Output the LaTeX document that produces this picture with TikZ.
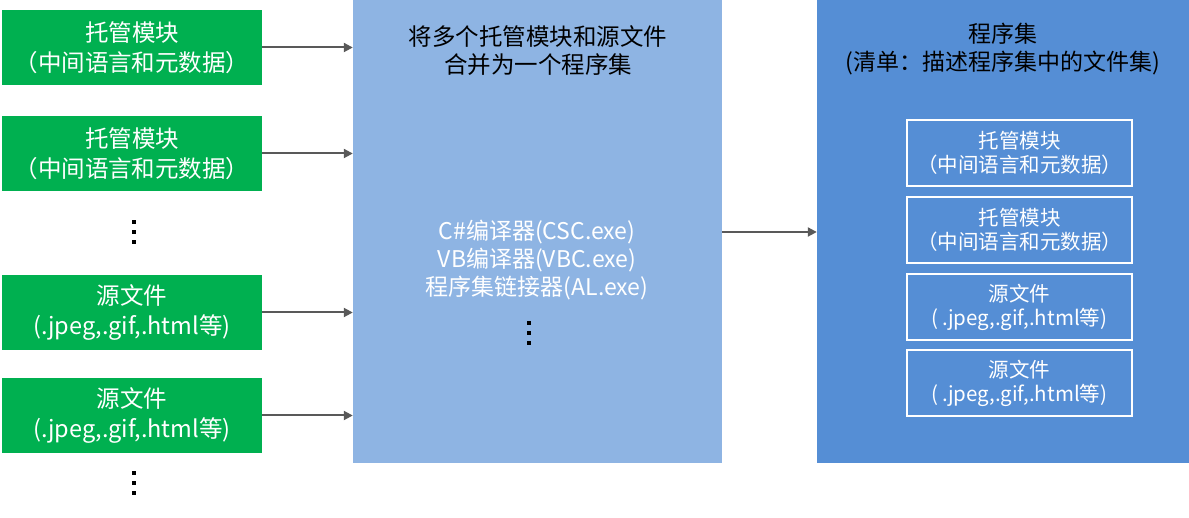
\documentclass[tikz,border=0pt]{standalone}
\usepackage{fontspec}
\setmainfont{Noto Sans CJK SC}
\usetikzlibrary{arrows.meta}
\definecolor{modgreen}{HTML}{00B050}
\definecolor{mergeblue}{HTML}{8EB4E3}
\definecolor{asmblue}{HTML}{558ED5}
\definecolor{arrowgray}{HTML}{595959}
\tikzset{
  srcbox/.style={fill=modgreen, text=white, minimum width=260pt, minimum height=75pt,
    inner sep=0pt, align=center, font=\fontsize{23.5}{30}\selectfont},
  filebox/.style={draw=white, line width=2.5pt, text=white, minimum width=225pt,
    minimum height=66pt, inner sep=0pt, align=center, font=\fontsize{20.5}{24}\selectfont},
  flow/.style={draw=arrowgray, line width=2pt, -{Triangle[length=9pt,width=9pt]}}
}
\begin{document}
\begin{tikzpicture}[x=1pt,y=-1pt]
  \useasboundingbox (0,0) rectangle (1189,518);
  % input files
  \node[srcbox] (mod1) at (132,47.5) {托管模块\\（中间语言和元数据）};
  \node[srcbox] (mod2) at (132,153.5) {托管模块\\（中间语言和元数据）};
  \node[srcbox] (res1) at (132,312.5) {源文件\\(.jpeg,.gif,.html等)};
  \node[srcbox] (res2) at (132,415.5) {源文件\\(.jpeg,.gif,.html等)};
  % compilers
  \node[fill=mergeblue, minimum width=369pt, minimum height=463pt, inner sep=0pt] (merge) at (537.5,231.5) {};
  \node[align=center, font=\fontsize{23.5}{28}\selectfont] (mergetitle) at (538,51) {将多个托管模块和源文件\\合并为一个程序集};
  \node[align=center, text=white, font=\fontsize{23}{28}\selectfont] (tools) at (537,260) {C\#编译器(CSC.exe)\\VB编译器(VBC.exe)\\程序集链接器(AL.exe)};
  % assembly
  \node[fill=asmblue, minimum width=372pt, minimum height=463pt, inner sep=0pt] (asm) at (1003,231.5) {};
  \node[align=center, font=\fontsize{23}{28}\selectfont] (asmtitle) at (1003,49) {程序集\\(清单：描述程序集中的文件集)};
  \node[filebox] (amod1) at (1019.5,153) {托管模块\\（中间语言和元数据）};
  \node[filebox] (amod2) at (1019.5,230) {托管模块\\（中间语言和元数据）};
  \node[filebox] (ares1) at (1019.5,307) {源文件\\(\,.jpeg,.gif,.html等)};
  \node[filebox] (ares2) at (1019.5,383) {源文件\\(\,.jpeg,.gif,.html等)};
  % vertical dots
  \foreach \cx/\cy in {134/232, 134/483, 529/333}
    \foreach \dy in {-10,0,10}
      \fill (\cx-2,\cy+\dy-2) rectangle ++(4,4);
  \foreach \src in {mod1,mod2,res1,res2}
    \draw[flow] (\src.east) -- (\src.east -| merge.west);
  \coordinate (joint) at (0,232);
  \draw[flow] (merge.east |- joint) -- (asm.west |- joint);
\end{tikzpicture}
\end{document}
